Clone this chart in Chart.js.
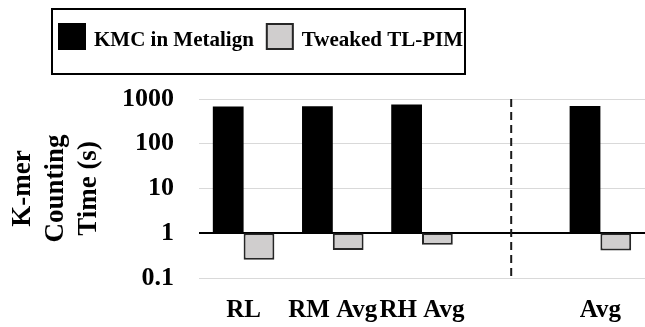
<!DOCTYPE html>
<html>
<head>
<meta charset="utf-8">
<script src="https://cdn.jsdelivr.net/npm/chart.js@4.4.0/dist/chart.umd.min.js"></script>
<style>
  html, body { margin: 0; padding: 0; background: #fff; }
</style>
</head>
<body>
<canvas id="myChart" width="645" height="327"></canvas>
<script>
const categories = ['RL', 'RM Avg', 'RH Avg', '', 'Avg'];
const kmcMetalign = [680, 690, 750, null, 700];
const tweakedTlPim = [0.255, 0.42, 0.555, null, 0.41];
const yTicks = [0.1, 1, 10, 100, 1000];
const baseValue = 1;
const dividerIndex = 3;

const serif = "'Liberation Serif', 'Times New Roman', serif";

// bars start at 1 and go up or down on the log axis
function fromBase(values) {
  return values.map(v => v == null ? null : [baseValue, v]);
}

// dashed separator before the overall average
const dividerLine = {
  id: 'dividerLine',
  afterDatasetsDraw(chart) {
    const {ctx, chartArea, scales} = chart;
    const x = scales.x.getPixelForValue(dividerIndex);
    ctx.save();
    ctx.strokeStyle = '#1a1a1a';
    ctx.lineWidth = 2;
    ctx.setLineDash([8, 5]);
    ctx.beginPath();
    ctx.moveTo(x, chartArea.top);
    ctx.lineTo(x, chartArea.bottom);
    ctx.stroke();
    ctx.restore();
  }
};

// boxed legend at the top
const boxedLegend = {
  id: 'boxedLegend',
  afterDraw(chart) {
    const {ctx} = chart;
    ctx.save();
    ctx.strokeStyle = '#000';
    ctx.lineWidth = 2;
    ctx.strokeRect(52, 9, 413, 65);
    ctx.font = 'bold 21px ' + serif;
    ctx.textBaseline = 'alphabetic';
    ctx.textAlign = 'left';
    let x = 58;
    chart.data.datasets.forEach(ds => {
      ctx.fillStyle = ds.backgroundColor;
      ctx.fillRect(x, 23, 28, 27);
      if (ds.borderWidth) {
        ctx.strokeStyle = ds.borderColor;
        ctx.lineWidth = ds.borderWidth;
        ctx.strokeRect(x + 1, 24, 26, 25);
      }
      ctx.fillStyle = '#000';
      ctx.fillText(ds.label, x + 36, 46);
      x += 36 + ctx.measureText(ds.label).width + 12;
    });
    ctx.restore();
  }
};

const ctx = document.getElementById('myChart');

new Chart(ctx, {
  type: 'bar',
  data: {
    labels: categories,
    datasets: [{
      label: 'KMC in Metalign',
      data: fromBase(kmcMetalign),
      backgroundColor: '#000000',
      borderColor: '#000000',
      borderWidth: 0,
      borderSkipped: false
    }, {
      label: 'Tweaked TL-PIM',
      data: fromBase(tweakedTlPim),
      backgroundColor: '#d0cece',
      borderColor: '#262626',
      borderWidth: 2,
      borderSkipped: false
    }]
  },
  options: {
    responsive: false,
    animation: false,
    layout: { padding: { top: 99, right: 0, bottom: 0, left: 0 } },
    categoryPercentage: 0.69,
    barPercentage: 1,
    plugins: {
      legend: { display: false },
      tooltip: { enabled: false }
    },
    scales: {
      x: {
        offset: true,
        grid: { display: false, drawTicks: false },
        border: { display: false },
        ticks: {
          color: '#000',
          font: { family: serif, size: 25, weight: 'bold' },
          padding: 18,
          maxRotation: 0,
          autoSkip: false
        },
        afterFit: scale => { scale.height = 49; }
      },
      y: {
        type: 'logarithmic',
        min: 0.1,
        max: 1000,
        afterBuildTicks: scale => {
          scale.ticks = yTicks.map(v => ({ value: v }));
        },
        grid: {
          drawTicks: false,
          color: c => (c.tick && c.tick.value === baseValue) ? '#000' : '#d9d9d9',
          lineWidth: c => (c.tick && c.tick.value === baseValue) ? 2 : 1
        },
        border: { display: false },
        ticks: {
          color: '#000',
          font: { family: serif, size: 26, weight: 'bold' },
          padding: 25,
          callback: v => String(v)
        },
        title: {
          display: true,
          text: ['K-mer', 'Counting', 'Time (s)'],
          color: '#000',
          font: { family: serif, size: 27, weight: 'bold', lineHeight: 1.22 },
          padding: { top: 7, bottom: 0 }
        },
        afterFit: scale => { scale.width = 199; }
      }
    }
  },
  plugins: [dividerLine, boxedLegend]
});
</script>
</body>
</html>
